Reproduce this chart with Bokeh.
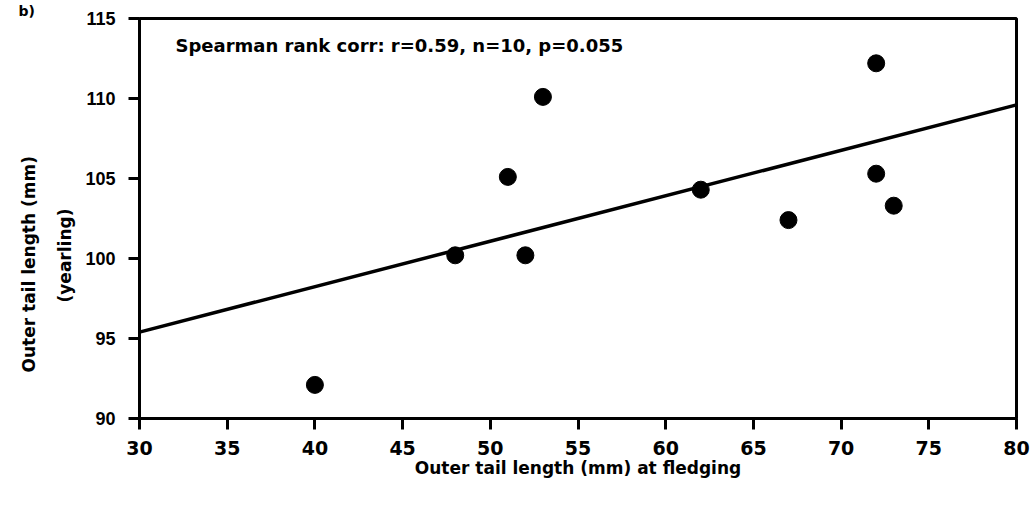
from bokeh.plotting import figure
from bokeh.models import Label, FixedTicker, Range1d, Title
from bokeh.embed import file_html
from bokeh.resources import INLINE

fledging = [40, 48, 51, 52, 53, 62, 67, 72, 72, 73]
yearling = [92.1, 100.2, 105.1, 100.2, 110.1, 104.3, 102.4, 112.2, 105.3, 103.3]
fit_x = [30, 80]
fit_y = [95.4, 109.6]
x_ticks = [30, 35, 40, 45, 50, 55, 60, 65, 70, 75, 80]
y_ticks = [90, 95, 100, 105, 110, 115]

FONT = "Liberation Sans"
WIDE = "DejaVu Sans"

p = figure(width=1034, height=505, output_backend="svg", toolbar_location=None,
           x_range=Range1d(30, 80), y_range=Range1d(90, 115),
           min_border_left=139, min_border_right=18, min_border_top=17, min_border_bottom=87)
p.background_fill_color = "white"
p.border_fill_color = "white"
p.outline_line_color = "black"
p.outline_line_width = 3
p.grid.visible = False

for ax in (p.xaxis[0], p.yaxis[0]):
    ax.axis_line_width = 3
    ax.axis_line_color = "black"
    ax.major_tick_line_width = 3
    ax.major_tick_in = 0
    ax.major_tick_out = 11
    ax.minor_tick_line_color = None
    ax.major_label_text_font_style = "bold"
    ax.major_label_text_color = "black"
    ax.axis_label_text_font = WIDE
    ax.axis_label_text_font_style = "bold"
    ax.axis_label_text_font_size = "17px"
    ax.axis_label_text_color = "black"

p.xaxis.major_label_text_font = WIDE
p.xaxis.major_label_text_font_size = "19px"
p.yaxis.major_label_text_font = FONT
p.yaxis.major_label_text_font_size = "18px"
p.xaxis.ticker = FixedTicker(ticks=x_ticks)
p.yaxis.ticker = FixedTicker(ticks=y_ticks)
p.xaxis.major_label_standoff = 11
p.yaxis.major_label_standoff = 13
p.xaxis.axis_label = "Outer tail length (mm) at fledging"
p.xaxis.axis_label_standoff = 0

for t, so, off in [("(yearling)", 16, 116), ("Outer tail length (mm)", 12, 46)]:
    p.add_layout(Title(text=t, align="left", offset=off, standoff=so,
                       text_font=WIDE, text_font_style="bold", text_font_size="17px",
                       text_color="black"), "left")

p.add_layout(Title(text="b)", align="left", offset=-121, standoff=0, vertical_align="bottom",
                   text_line_height=0.8, text_font=WIDE, text_font_style="bold",
                   text_font_size="14px", text_color="black"), "above")

p.line(fit_x, fit_y, line_color="black", line_width=3.5)
p.scatter(fledging, yearling, size=17, fill_color="black", line_color="black")

p.add_layout(Label(x=32.05, y=113.3, text="Spearman rank corr: r=0.59, n=10, p=0.055",
                   text_font=WIDE, text_font_style="bold", text_font_size="18px",
                   text_color="black", text_baseline="middle"))

open("out.html", "w").write(file_html(p, INLINE))
